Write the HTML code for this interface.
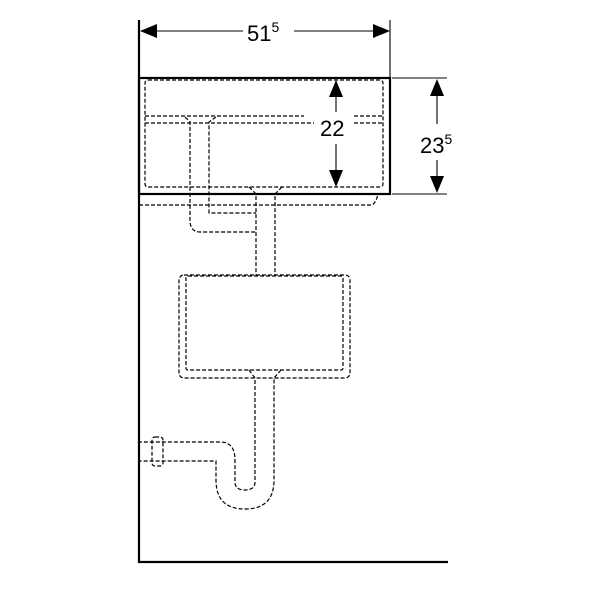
<!DOCTYPE html>
<html><head><meta charset="utf-8"><style>
html,body{margin:0;padding:0;background:#fff;}
svg{display:block;}
text{font-family:"Liberation Sans",sans-serif;fill:#000;}
</style></head><body>
<svg width="600" height="600" viewBox="0 0 600 600" xmlns="http://www.w3.org/2000/svg">
<rect width="600" height="600" fill="#fff"/>
<path d="M139 20 V562 H448" fill="none" stroke="#000" stroke-width="2.2"/>
<rect x="139" y="78" width="251" height="116" fill="none" stroke="#000" stroke-width="2.2"/>
<g stroke="#000" stroke-width="1.1" fill="none">
<line x1="390" y1="20" x2="390" y2="78"/>
<line x1="392" y1="78" x2="447" y2="78"/>
<line x1="392" y1="194" x2="447" y2="194"/>
<line x1="150" y1="31" x2="243" y2="31"/>
<line x1="294" y1="31" x2="378" y2="31"/>
<line x1="437" y1="92" x2="437" y2="124"/>
<line x1="437" y1="160" x2="437" y2="180"/>
<line x1="336" y1="92" x2="336" y2="112"/>
<line x1="336" y1="144" x2="336" y2="172"/>
</g>
<g fill="#000">
<polygon points="140,31 157,24 157,38"/>
<polygon points="390,31 373,24 373,38"/>
<polygon points="437,79 430,96 444,96"/>
<polygon points="437,193 430,176 444,176"/>
<polygon points="336,80 329,97 343,97"/>
<polygon points="336,187 329,170 343,170"/>
</g>
<text x="247" y="41" font-size="22">51<tspan font-size="14" dy="-9">5</tspan></text>
<text x="420" y="153" font-size="22">23<tspan font-size="14" dy="-9">5</tspan></text>
<text x="320" y="136" font-size="22">22</text>
<g stroke="#000" stroke-width="1.2" fill="none" stroke-dasharray="4,2">
<rect x="145" y="80" width="238" height="107" rx="3"/>
<line x1="145" y1="116" x2="304" y2="116"/>
<line x1="145" y1="123" x2="314" y2="123"/>
<line x1="354" y1="116" x2="383" y2="116"/>
<line x1="354" y1="123" x2="383" y2="123"/>
<path d="M139 205 H372 Q376 203 378 194"/>
<path d="M185 117 L190 122 V222 Q191 232 200 232 H256"/>
<path d="M216 117 L209 122 V213 H256"/>
<path d="M249 187 L256 194 V275"/>
<path d="M282 187 L275 194 V275"/>
<rect x="179" y="275" width="171" height="103" rx="5"/>
<rect x="186" y="276" width="157" height="94" rx="2"/>
<path d="M249 370 L255 378 V482 Q255 490 245 490 Q235 490 235 482 V460 Q235 442 220 442 H139"/>
<path d="M281 370 L274 378 V480 Q274 509 245 509 Q216 509 216 480 V461 H139"/>
<rect x="152" y="437" width="11" height="29" rx="3"/>
</g>
</svg>
</body></html>
